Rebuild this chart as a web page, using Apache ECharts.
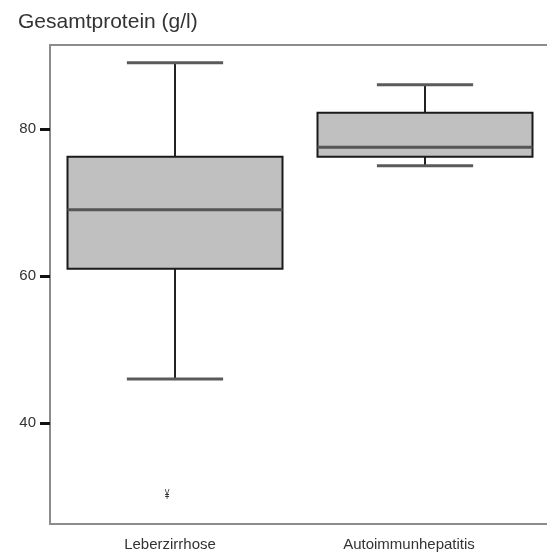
<!DOCTYPE html>
<html>
<head>
<meta charset="utf-8">
<script src="https://cdn.jsdelivr.net/npm/echarts@6/dist/echarts.min.js"></script>
<style>
html, body { margin: 0; padding: 0; background: #fff; }
#chart { width: 547px; height: 556px; }
</style>
</head>
<body>
<div id="chart"></div>
<script>
// Gesamtprotein je Diagnosegruppe (Boxplot)
var categories = ['Leberzirrhose', 'Autoimmunhepatitis'];
var lowWhisker = [46, 75];
var lowerQuartile = [61, 76.2];
var medians = [69, 77.5];
var upperQuartile = [76.2, 82.2];
var highWhisker = [89, 86];
// Extremwerte: [Kategorie-Index, Wert]
var extremes = [[0, 30.2]];
var yTicks = [40, 60, 80];

var boxData = categories.map(function (c, i) {
    return [i, lowWhisker[i], lowerQuartile[i], medians[i], upperQuartile[i], highWhisker[i]];
});

var myChart = echarts.init(document.getElementById('chart'));

var font = '"Liberation Sans", Arial, sans-serif';
var axisGray = '#8c8c8c';

var option = {
    backgroundColor: '#fff',
    animation: false,
    title: {
        text: 'Gesamtprotein (g/l)',
        left: 13,
        top: 7,
        textStyle: {
            color: '#333',
            fontSize: 21,
            fontWeight: 'normal',
            fontFamily: font
        }
    },
    grid: {
        left: 50,
        top: 45,
        width: 500,
        bottom: 32,
        outerBoundsMode: 'none',
        containLabel: false,
        show: false
    },
    xAxis: [
        {
            type: 'category',
            data: categories,
            axisLine: { lineStyle: { color: axisGray, width: 2 } },
            axisTick: {
                alignWithLabel: true,
                length: 7,
                lineStyle: { color: '#222', width: 2 }
            },
            axisLabel: {
                margin: 13,
                color: '#333',
                fontSize: 15,
                fontFamily: font,
                formatter: function (v, i) {
                    return (i === 0 ? '{a|' : '{b|') + v + '}';
                },
                rich: {
                    a: { fontSize: 15, fontFamily: font, color: '#333', padding: [0, 10, 0, 0] },
                    b: { fontSize: 15, fontFamily: font, color: '#333', padding: [0, 32, 0, 0] }
                }
            },
            splitLine: { show: false }
        },
        {
            // obere Rahmenlinie
            type: 'category',
            position: 'top',
            data: categories,
            axisLine: { show: true, lineStyle: { color: axisGray, width: 2 } },
            axisTick: { show: false },
            axisLabel: { show: false },
            splitLine: { show: false }
        }
    ],
    yAxis: {
        type: 'value',
        min: 26.3,
        max: 91.4,
        axisLine: { show: true, lineStyle: { color: axisGray, width: 2 } },
        axisTick: {
            show: true,
            customValues: yTicks,
            length: 10,
            lineStyle: { color: '#111', width: 3 }
        },
        axisLabel: {
            customValues: yTicks,
            margin: 14,
            color: '#333',
            fontSize: 15,
            fontFamily: font
        },
        splitLine: { show: false }
    },
    series: [
        {
            type: 'custom',
            name: 'box',
            encode: { x: 0, y: [1, 2, 3, 4, 5] },
            data: boxData,
            renderItem: function (params, api) {
                var idx = api.value(0);
                var lo = api.coord([idx, api.value(1)]);
                var b1 = api.coord([idx, api.value(2)]);
                var md = api.coord([idx, api.value(3)]);
                var b3 = api.coord([idx, api.value(4)]);
                var hi = api.coord([idx, api.value(5)]);
                var band = api.size([1, 0])[0];
                var bw = band * 0.86;
                var cw = band * 0.385;
                var cx = md[0];
                var whisker = { stroke: '#222', lineWidth: 2 };
                var cap = { stroke: '#5a5a5a', lineWidth: 3 };
                return {
                    type: 'group',
                    children: [
                        { type: 'line', shape: { x1: cx, y1: hi[1], x2: cx, y2: b3[1] }, style: whisker },
                        { type: 'line', shape: { x1: cx, y1: b1[1], x2: cx, y2: lo[1] }, style: whisker },
                        { type: 'line', shape: { x1: cx - cw / 2, y1: hi[1], x2: cx + cw / 2, y2: hi[1] }, style: cap },
                        { type: 'line', shape: { x1: cx - cw / 2, y1: lo[1], x2: cx + cw / 2, y2: lo[1] }, style: cap },
                        {
                            type: 'rect',
                            shape: { x: cx - bw / 2, y: b3[1], width: bw, height: b1[1] - b3[1] },
                            style: { fill: '#c0c0c0', stroke: '#1a1a1a', lineWidth: 2 }
                        },
                        {
                            type: 'line',
                            shape: { x1: cx - bw / 2, y1: md[1], x2: cx + bw / 2, y2: md[1] },
                            style: { stroke: '#555', lineWidth: 3 }
                        }
                    ]
                };
            }
        },
        {
            type: 'custom',
            name: 'extreme',
            encode: { x: 0, y: 1 },
            data: extremes,
            renderItem: function (params, api) {
                var p = api.coord([api.value(0), api.value(1)]);
                return {
                    type: 'text',
                    x: p[0] - 8,
                    y: p[1],
                    scaleX: 0.6,
                    style: {
                        text: '¥',
                        fill: '#333',
                        fontSize: 14,
                        fontFamily: font,
                        align: 'center',
                        verticalAlign: 'middle'
                    }
                };
            }
        }
    ]
};

myChart.setOption(option);
</script>
</body>
</html>
